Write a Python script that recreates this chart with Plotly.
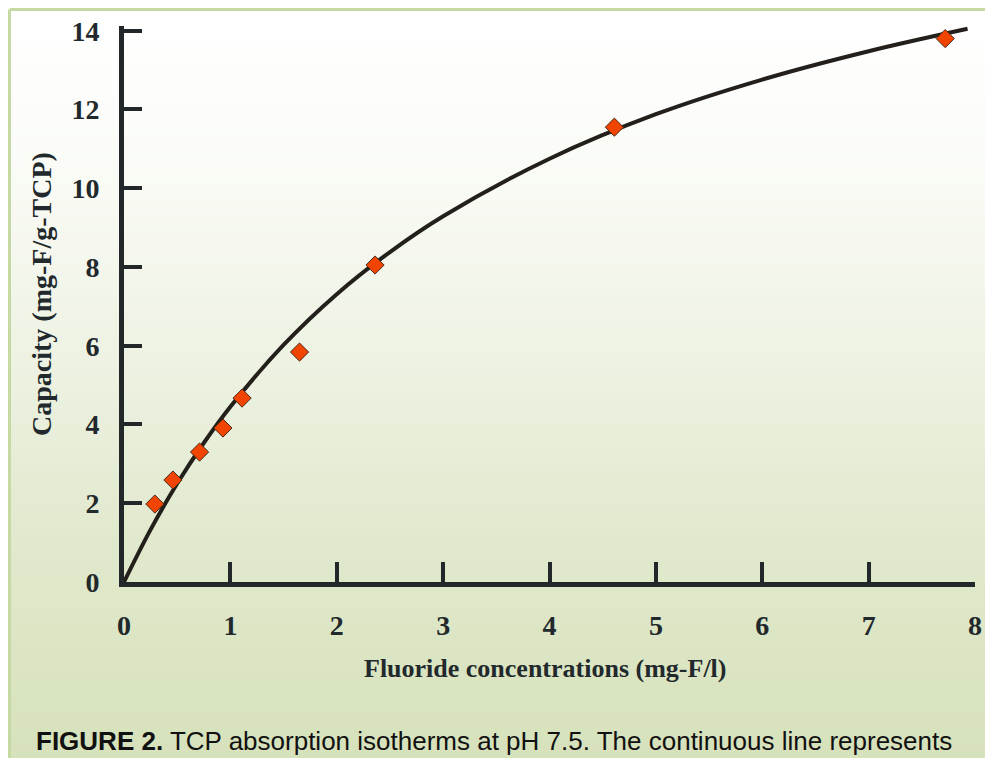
import plotly.graph_objects as go

conc = [0.29, 0.46, 0.71, 0.93, 1.11, 1.65, 2.36, 4.61, 7.72]
capacity = [1.98, 2.59, 3.30, 3.91, 4.67, 5.84, 8.05, 11.55, 13.80]

# Continuous (fitted) line
curve_x = [0, 0.25, 0.5, 0.75, 1.0, 1.5, 2.0, 2.5, 3.0, 4.0, 5.0, 6.0, 7.0, 7.93]
curve_y = [0, 1.33, 2.50, 3.53, 4.45, 6.02, 7.31, 8.38, 9.29, 10.75, 11.88, 12.76, 13.48, 14.05]

x_ticks = [0, 1, 2, 3, 4, 5, 6, 7, 8]
y_ticks = [0, 2, 4, 6, 8, 10, 12, 14]

x_title = "Fluoride concentrations (mg-F/l)"
y_title = "Capacity (mg-F/g-TCP)"
caption = "<b>FIGURE 2.</b> TCP absorption isotherms at pH 7.5. The continuous line represents"

OFF = 8  # page body margin
PW, PH = 993, 766
W, H = PW - 2 * OFF, PH - 2 * OFF
# plot area in page pixels
L, R, T, B = 124, 975, 26, 582
YMAX = 14.12


def px(xp):
    return (xp - L) / (R - L)


def py(yp):
    return (B - yp) / (B - T)


def hexlerp(c1, c2, t):
    a = [int(c1[i:i + 2], 16) for i in (1, 3, 5)]
    b = [int(c2[i:i + 2], 16) for i in (1, 3, 5)]
    return "#%02x%02x%02x" % tuple(round(a[k] + (b[k] - a[k]) * t) for k in range(3))


stops = [(9, "#ffffff"), (120, "#fcfdfa"), (220, "#f7f9f1"), (420, "#e9efdc"),
         (540, "#e1e9cd"), (715, "#d8e3be"), (766, "#d6e2bb")]

shapes = []
y0 = 9
step = 6
while y0 < PH:
    y1 = min(y0 + step, PH)
    ym = (y0 + y1) / 2
    col = stops[-1][1]
    for (a, ca), (b, cb) in zip(stops[:-1], stops[1:]):
        if a <= ym <= b:
            col = hexlerp(ca, cb, (ym - a) / (b - a))
            break
    shapes.append(dict(type="rect", xref="paper", yref="paper",
                       x0=px(9), x1=px(PW + 5), y0=py(y1 + 0.5), y1=py(y0),
                       fillcolor=col, line=dict(width=0), layer="below"))
    y0 = y1

# light green panel border (top and left)
shapes.append(dict(type="line", xref="paper", yref="paper", x0=px(9.5), x1=px(PW + 5),
                   y0=py(9.5), y1=py(9.5), line=dict(color="#c6d9a2", width=3), layer="below"))
shapes.append(dict(type="line", xref="paper", yref="paper", x0=px(9.5), x1=px(9.5),
                   y0=py(9.5), y1=py(PH + 5), line=dict(color="#c6d9a2", width=3), layer="below"))

fig = go.Figure()
fig.add_trace(go.Scatter(x=curve_x, y=curve_y, mode="lines", line_shape="spline",
                         line=dict(color="#231f1b", width=4), showlegend=False,
                         hoverinfo="skip"))
fig.add_trace(go.Scatter(x=conc, y=capacity, mode="markers",
                         marker=dict(symbol="diamond", size=14, color="#f04400",
                                     line=dict(color="#4a2a1a", width=1)),
                         cliponaxis=False, showlegend=False))

tick_font = dict(family="Liberation Serif", size=28, color="#22292c", weight="bold")
axis_col = "#22282a"

fig.update_layout(
    width=W, height=H,
    margin=dict(l=L - OFF, r=W - (R - OFF), t=T - OFF, b=H - (B - OFF), autoexpand=False),
    paper_bgcolor="white", plot_bgcolor="rgba(0,0,0,0)",
    shapes=shapes,
    xaxis=dict(range=[0, 8], tickvals=x_ticks, ticktext=[str(v) for v in x_ticks],
               automargin=False,
               showgrid=False, zeroline=False, showline=True, linecolor=axis_col, linewidth=5,
               ticks="inside", ticklen=20, tickwidth=4, tickcolor=axis_col,
               tickfont=tick_font, ticklabelstandoff=14),
    yaxis=dict(range=[0, YMAX], tickvals=y_ticks, ticktext=[str(v) for v in y_ticks],
               automargin=False,
               showgrid=False, zeroline=False, showline=True, linecolor=axis_col, linewidth=5,
               ticks="inside", ticklen=18, tickwidth=4, tickcolor=axis_col,
               tickfont=tick_font, ticklabelstandoff=14),
    annotations=[
        dict(text="<b>" + x_title + "</b>", xref="paper", yref="paper", x=px(545), y=py(668),
             xanchor="center", yanchor="middle", showarrow=False,
             font=dict(family="Liberation Serif", size=26, color="#22292c")),
        dict(text="<b>" + y_title + "</b>", xref="paper", yref="paper", x=px(41), y=py(294),
             xanchor="center", yanchor="middle", showarrow=False, textangle=-90,
             font=dict(family="Liberation Serif", size=28, color="#22292c")),
        dict(text=caption, xref="paper", yref="paper", x=px(34), y=py(741),
             xanchor="left", yanchor="middle", showarrow=False,
             font=dict(family="Liberation Sans", size=26, color="#111111")),
    ],
)

fig.write_html("out.html")
